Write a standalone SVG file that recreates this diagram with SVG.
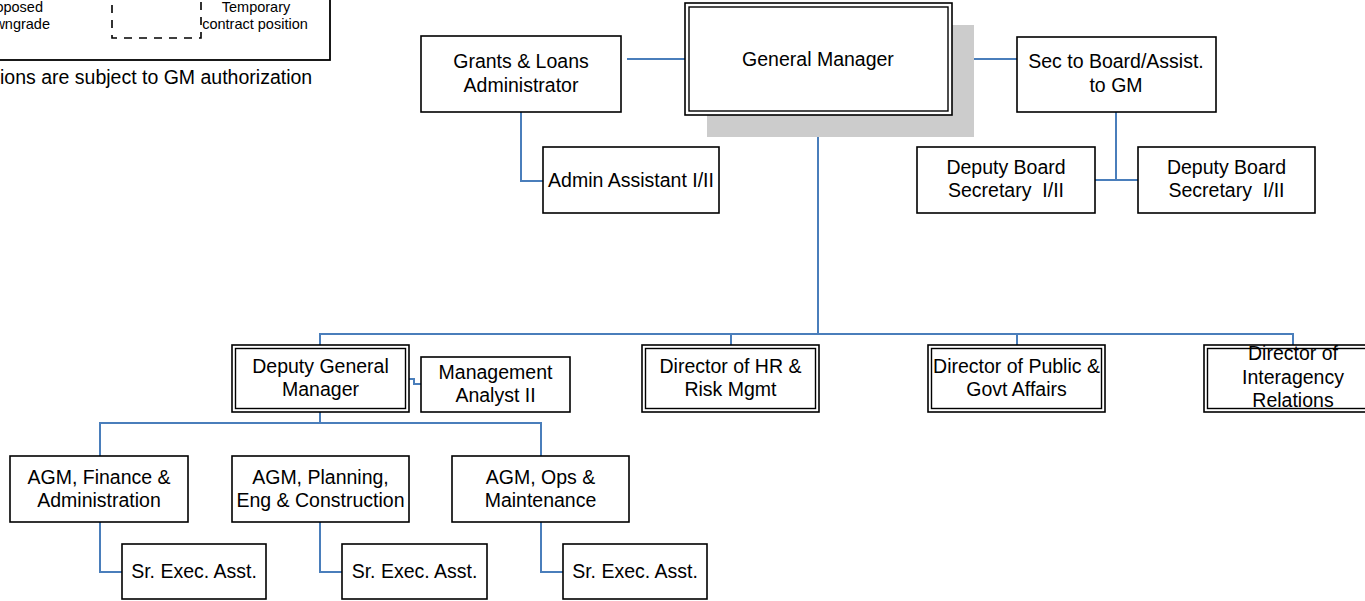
<svg xmlns="http://www.w3.org/2000/svg" width="1365" height="601" viewBox="0 0 1365 601">
<style>
text{font-family:"Liberation Sans",Arial,sans-serif;font-size:19.5px;fill:#000;text-anchor:middle}
.sm{font-size:14.5px}
.box{fill:#fff;stroke:#000;stroke-width:1.6}
.in{fill:none;stroke:#000;stroke-width:1.4}
.conn{fill:none;stroke:#4a7ebb;stroke-width:2}
</style>
<rect width="1365" height="601" fill="#fff"/>
<g id="legend">
<rect x="-50" y="-50" width="380" height="110" fill="#fff" stroke="#000" stroke-width="1.8"/>
<path d="M112,-10 V38 H201 V-10" fill="none" stroke="#000" stroke-width="1.6" stroke-dasharray="8,7"/>
<text class="sm" x="43" y="12" style="text-anchor:end">oposed</text>
<text class="sm" x="50" y="29" style="text-anchor:end">wngrade</text>
<text class="sm" x="256" y="12">Temporary</text>
<text class="sm" x="255" y="29">contract position</text>
</g>
<text x="0" y="84" style="text-anchor:start">ions are subject to GM authorization</text>
<g id="connectors">
<path class="conn" d="M627,59 H686"/>
<path class="conn" d="M952,59 H1017"/>
<path class="conn" d="M521,112 V181 H543"/>
<path class="conn" d="M1116,112 V180 M1095,180 H1138"/>
<path class="conn" d="M818,115 V334 M320,345 V334 H1293 V345 M731,334 V345 M1017,334 V345"/>
<path class="conn" d="M409,379 H414 V384 H421"/>
<path class="conn" d="M320,412 V423 M100,456 V423 H541 V456"/>
<path class="conn" d="M100,522 V572 H122"/>
<path class="conn" d="M320,522 V572 H342"/>
<path class="conn" d="M541,522 V572 H563"/>
</g>
<g id="gm">
<rect x="707" y="25" width="267" height="112" fill="#cccccc"/>
<rect class="box" x="685" y="3" width="267" height="112"/>
<rect class="in" x="689" y="7" width="259" height="104"/>
<text x="818" y="66">General Manager</text>
</g>
<g id="grants">
<rect class="box" x="421" y="36" width="200" height="76"/>
<text x="521" y="68">Grants &amp; Loans</text>
<text x="521" y="92">Administrator</text>
</g>
<g id="admin">
<rect class="box" x="543" y="147" width="176" height="66"/>
<text x="631" y="187">Admin Assistant I/II</text>
</g>
<g id="sec">
<rect class="box" x="1017" y="37" width="199" height="75"/>
<text x="1116" y="68">Sec to Board/Assist.</text>
<text x="1116" y="92">to GM</text>
</g>
<g id="dbs1">
<rect class="box" x="917" y="147" width="178" height="66"/>
<text x="1006" y="174">Deputy Board</text>
<text x="1006" y="197">Secretary&#160; I/II</text>
</g>
<g id="dbs2">
<rect class="box" x="1138" y="147" width="177" height="66"/>
<text x="1226.5" y="174">Deputy Board</text>
<text x="1226.5" y="197">Secretary&#160; I/II</text>
</g>
<g id="dgm">
<rect class="box" x="232" y="345" width="177" height="67"/>
<rect class="in" x="235.5" y="348.5" width="170" height="60"/>
<text x="320.5" y="373">Deputy General</text>
<text x="320.5" y="396">Manager</text>
</g>
<g id="mgmt">
<rect class="box" x="421" y="357" width="149" height="55"/>
<text x="495.5" y="379">Management</text>
<text x="495.5" y="402">Analyst II</text>
</g>
<g id="hr">
<rect class="box" x="642" y="345" width="177" height="67"/>
<rect class="in" x="645.5" y="348.5" width="170" height="60"/>
<text x="730.5" y="373">Director of HR &amp;</text>
<text x="730.5" y="396">Risk Mgmt</text>
</g>
<g id="public">
<rect class="box" x="928" y="345" width="177" height="67"/>
<rect class="in" x="931.5" y="348.5" width="170" height="60"/>
<text x="1016.5" y="373">Director of Public &amp;</text>
<text x="1016.5" y="396">Govt Affairs</text>
</g>
<g id="interagency">
<rect class="box" x="1204" y="345" width="178" height="67"/>
<rect class="in" x="1207.5" y="348.5" width="171" height="60"/>
<text x="1293" y="360">Director of</text>
<text x="1293" y="384">Interagency</text>
<text x="1293" y="407">Relations</text>
</g>
<g id="agm1">
<rect class="box" x="10" y="456" width="178" height="66"/>
<text x="99" y="484">AGM, Finance &amp;</text>
<text x="99" y="507">Administration</text>
</g>
<g id="agm2">
<rect class="box" x="232" y="456" width="177" height="66"/>
<text x="320.5" y="484">AGM, Planning,</text>
<text x="320.5" y="507">Eng &amp; Construction</text>
</g>
<g id="agm3">
<rect class="box" x="452" y="456" width="177" height="66"/>
<text x="540.5" y="484">AGM, Ops &amp;</text>
<text x="540.5" y="507">Maintenance</text>
</g>
<g id="sr1">
<rect class="box" x="122" y="544" width="144" height="55"/>
<text x="194" y="578">Sr. Exec. Asst.</text>
</g>
<g id="sr2">
<rect class="box" x="342" y="544" width="145" height="55"/>
<text x="414.5" y="578">Sr. Exec. Asst.</text>
</g>
<g id="sr3">
<rect class="box" x="563" y="544" width="144" height="55"/>
<text x="635" y="578">Sr. Exec. Asst.</text>
</g>
</svg>
